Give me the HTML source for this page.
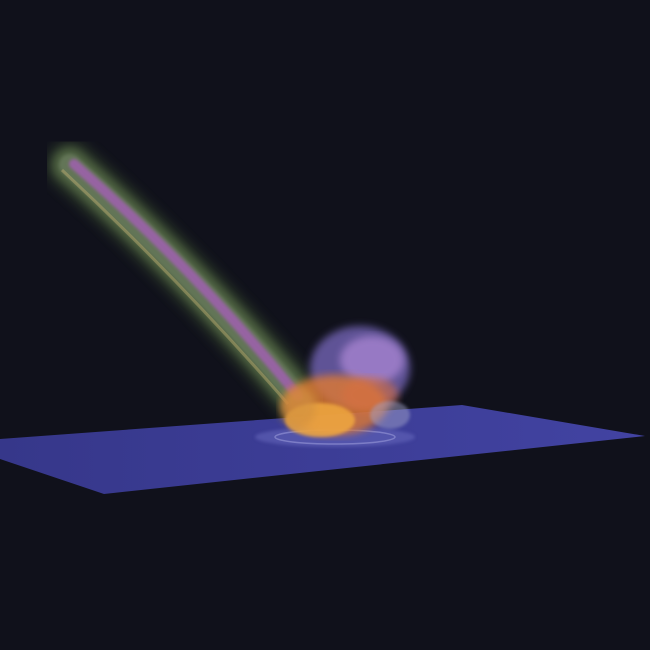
<!DOCTYPE html>
<html><head><meta charset="utf-8"><style>
html,body{margin:0;padding:0;background:#10111b;}
svg{display:block}
</style></head><body>
<svg width="650" height="650" viewBox="0 0 650 650">
<defs>
<filter id="b4"><feGaussianBlur stdDeviation="4"/></filter>
<filter id="b2"><feGaussianBlur stdDeviation="1.5"/></filter>
<filter id="b6"><feGaussianBlur stdDeviation="6"/></filter>
<linearGradient id="pl" x1="0" y1="0" x2="1" y2="0">
<stop offset="0" stop-color="#36378a"/><stop offset="1" stop-color="#4243a2"/></linearGradient>
</defs>
<rect width="650" height="650" fill="#10111b"/>
<polygon points="0,439 462,405 645,436 104,494 0,459" fill="url(#pl)"/>
<ellipse cx="335" cy="437" rx="80" ry="10" fill="#6a6cc0" opacity="0.5" filter="url(#b2)"/>
<ellipse cx="335" cy="437" rx="60" ry="7" fill="none" stroke="#9a9ad8" stroke-width="1.5" opacity="0.6"/>
<g>
<path d="M70,165 Q190,270 300,400" fill="none" stroke="#4f6a3a" stroke-width="48" stroke-linecap="round" opacity="0.45" filter="url(#b6)"/>
<path d="M70,165 Q190,270 300,400" fill="none" stroke="#6f8a5a" stroke-width="34" stroke-linecap="round" opacity="0.5" filter="url(#b4)"/>
<path d="M70,165 Q190,270 300,400" fill="none" stroke="#8a9a80" stroke-width="22" stroke-linecap="round" opacity="0.35" filter="url(#b2)"/>
<path d="M74,164 Q194,268 298,396" fill="none" stroke="#a060b0" stroke-width="10" stroke-linecap="round" opacity="0.85" filter="url(#b2)"/>
<path d="M62,170 Q180,280 288,404" fill="none" stroke="#c0b070" stroke-width="3" opacity="0.45"/>
</g>
<g>
<ellipse cx="360" cy="368" rx="50" ry="42" fill="#7a6ac0" opacity="0.75" filter="url(#b4)"/>
<ellipse cx="372" cy="360" rx="32" ry="24" fill="#b08ad8" opacity="0.7" filter="url(#b4)"/>
<ellipse cx="335" cy="405" rx="52" ry="30" fill="#e07a30" opacity="0.8" filter="url(#b4)"/>
<ellipse cx="320" cy="420" rx="35" ry="17" fill="#f0a840" opacity="0.85" filter="url(#b2)"/>
<ellipse cx="370" cy="395" rx="28" ry="18" fill="#d87040" opacity="0.6" filter="url(#b4)"/>
<ellipse cx="390" cy="415" rx="20" ry="14" fill="#9fa0c8" opacity="0.5" filter="url(#b2)"/>
<ellipse cx="298" cy="408" rx="18" ry="20" fill="#d09040" opacity="0.6" filter="url(#b4)"/>
</g>
</svg>
</body></html>
